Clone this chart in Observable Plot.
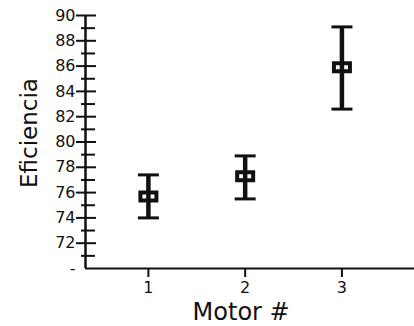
<!DOCTYPE html>
<html>
<head>
<meta charset="utf-8">
<script src="https://cdn.jsdelivr.net/npm/d3@7"></script>
<script src="https://cdn.jsdelivr.net/npm/@observablehq/plot@0.6"></script>
<style>
  html, body { margin: 0; padding: 0; background: #fff; }
  #chart svg { display: block; }
</style>
</head>
<body>
<div id="chart"></div>
<script>
const motors = [1, 2, 3];
const means = [75.7, 77.3, 85.9];
const lows = [74.0, 75.5, 82.6];
const highs = [77.4, 78.9, 89.1];
const majorTicks = [70, 72, 74, 76, 78, 80, 82, 84, 86, 88, 90];
const minorTicks = [71, 73, 75, 77, 79, 81, 83, 85, 87, 89];
const xTicks = [1, 2, 3];
const xDomain = [0.35, 3.75];
const yDomain = [70, 90];

const data = motors.map((m, i) => ({motor: m, mean: means[i], lo: lows[i], hi: highs[i]}));

const W = 414, H = 326, ML = 85, MR = 0, MT = 15, MB = 58;
const frameW = W - ML - MR;
const font = "DejaVu Sans";
const ink = "#111";

const boxSymbol = { draw(ctx) { ctx.rect(-8, -4, 16, 8); } };
const capSymbol = { draw(ctx) { ctx.moveTo(-10.5, 0); ctx.lineTo(10.5, 0); } };

const chart = Plot.plot({
  width: W, height: H,
  marginLeft: ML, marginRight: MR, marginTop: MT, marginBottom: MB,
  style: { fontFamily: font, color: ink, background: "#fff" },
  x: { domain: xDomain },
  y: { domain: yDomain },
  marks: [
    Plot.axisY({ ticks: majorTicks, tickFormat: d => d === 70 ? "-" : String(d), tickSize: 0, tickPadding: 10, label: null, fontSize: 16, fill: ink }),
    Plot.tickY(majorTicks.filter(d => d !== 70), { y: d => d, insetRight: frameW - 20, dx: -9, stroke: ink, strokeWidth: 2 }),
    Plot.tickY(minorTicks, { y: d => d, insetRight: frameW - 14, dx: -4, stroke: ink, strokeWidth: 2 }),
    Plot.ruleX([xDomain[0]], { y1: yDomain[0], y2: yDomain[1], stroke: ink, strokeWidth: 2.5 }),
    Plot.ruleY([yDomain[0]], { stroke: ink, strokeWidth: 2 }),
    Plot.axisX({ ticks: xTicks, tickFormat: d3.format("d"), tickSize: 9, tickPadding: 4, label: null, fontSize: 16, fill: ink, stroke: ink, strokeWidth: 2 }),
    Plot.text(["Motor #"], { x: 2, frameAnchor: "bottom", dy: 44.3, dx: -4, lineAnchor: "middle", textAnchor: "middle", fontSize: 24, fill: ink }),
    Plot.text(["Eficiencia"], { frameAnchor: "left", rotate: -90, dx: -56, dy: -9, lineAnchor: "middle", textAnchor: "middle", fontSize: 23, fill: ink }),
    Plot.dot(data, { x: "motor", y: "mean", symbol: boxSymbol, fill: "white", stroke: ink, strokeWidth: 4 }),
    Plot.ruleX(data, { x: "motor", y1: "lo", y2: "hi", stroke: ink, strokeWidth: 4.5 }),
    Plot.dot(data, { x: "motor", y: "hi", symbol: capSymbol, fill: "none", stroke: ink, strokeWidth: 3 }),
    Plot.dot(data, { x: "motor", y: "lo", symbol: capSymbol, fill: "none", stroke: ink, strokeWidth: 3 })
  ]
});
document.getElementById("chart").appendChild(chart);
</script>
</body>
</html>
